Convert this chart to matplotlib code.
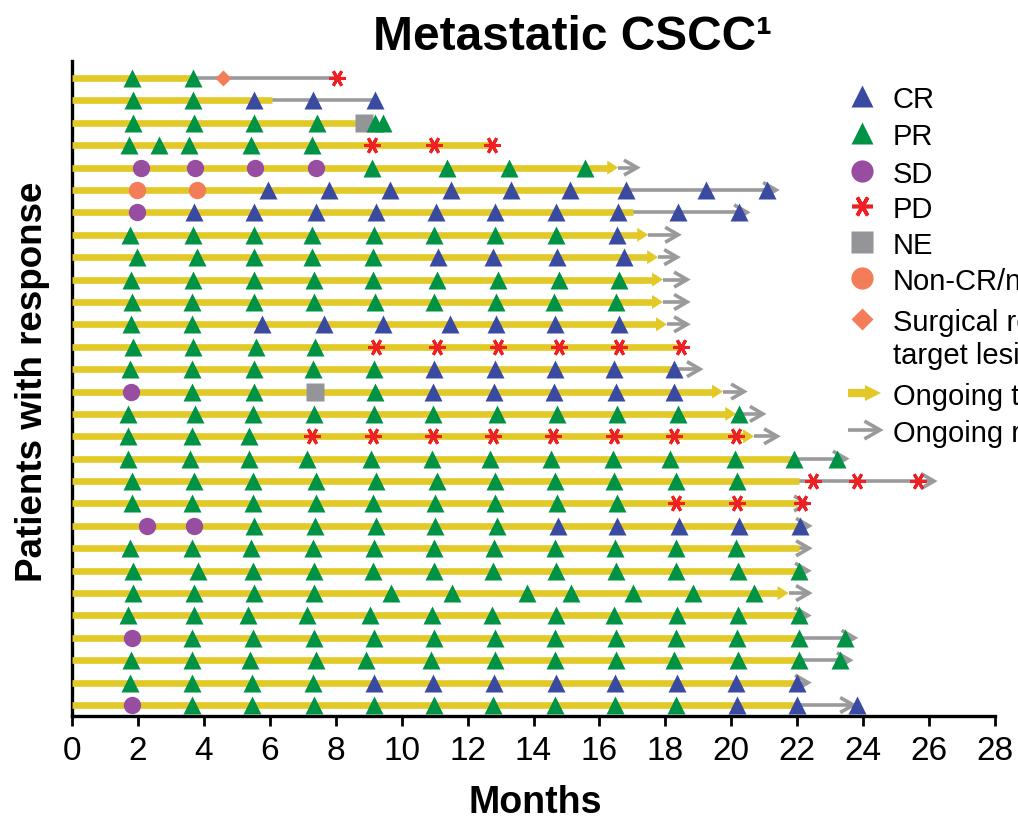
import matplotlib
matplotlib.use("Agg")
import matplotlib.pyplot as plt
from matplotlib.lines import Line2D
from matplotlib.patches import Polygon

plt.rcParams['font.family'] = ['Liberation Sans', 'DejaVu Sans']
NARROW = ['Liberation Sans Narrow', 'Liberation Sans', 'DejaVu Sans']

# ---------------- data (months) ----------------
# treatment bar end (yellow) and whether treatment is ongoing (yellow arrow)
treat_end = [3.70, 6.07, 8.68, 12.74, 16.57, 16.93, 17.02, 17.48, 17.78, 17.93,
             17.93, 18.05, 18.40, 18.20, 19.75, 20.15, 20.69, 22.00, 22.06, 22.00,
             22.03, 22.06, 22.06, 21.74, 22.06, 22.04, 22.04, 22.00, 22.00]
treat_ongoing = [0, 0, 0, 0, 1, 0, 0, 1, 1, 1,
                 1, 1, 0, 0, 1, 1, 1, 0, 0, 0,
                 0, 0, 0, 1, 0, 0, 0, 0, 0]
# response line end (gray); None = no gray line; ongoing response = gray open arrow
resp_end = [8.04, 9.19, None, None, 17.14, 21.36, 20.48, 18.39, 18.36, 18.66,
            18.66, 18.66, None, 19.05, 20.39, 20.96, 21.39, 23.48, 26.15, 22.30,
            22.36, 22.36, 22.33, 22.36, 22.33, 23.74, 23.60, 22.33, 23.70]
resp_ongoing = [0, 0, 0, 0, 1, 1, 1, 1, 1, 1,
                1, 1, 0, 1, 1, 1, 1, 1, 1, 1,
                1, 1, 1, 1, 1, 1, 1, 1, 1]

# tumour assessments per patient (code month)
assessments = [
    "PR 1.82, PR 3.67, SR 4.58, PD 8.04",
    "PR 1.85, PR 3.67, CR 5.52, CR 7.31, CR 9.19",
    "PR 1.85, PR 3.70, PR 5.52, PR 7.43, NE 8.86, PR 9.19, PR 9.44",
    "PR 1.73, PR 2.64, PR 3.55, PR 5.43, PR 7.28, PD 9.10, PD 10.98, PD 12.74",
    "SD 2.09, SD 3.73, SD 5.55, SD 7.40, PR 9.10, PR 11.38, PR 13.26, PR 15.56",
    "NC 1.97, NC 3.79, CR 5.95, CR 7.80, CR 9.65, CR 11.50, CR 13.32, CR 15.11, CR 16.81, CR 19.24, CR 21.09",
    "SD 1.97, CR 3.70, CR 5.52, CR 7.40, CR 9.22, CR 11.04, CR 12.83, CR 14.68, CR 16.57, CR 18.39, CR 20.24",
    "PR 1.76, PR 3.67, PR 5.52, PR 7.28, PR 9.16, PR 10.98, PR 12.83, PR 14.68, CR 16.54",
    "PR 1.97, PR 3.79, PR 5.52, PR 7.28, PR 9.13, CR 11.10, CR 12.77, CR 14.71, CR 16.75",
    "PR 1.79, PR 3.67, PR 5.52, PR 7.34, PR 9.13, PR 11.07, PR 12.92, PR 14.78, PR 16.60",
    "PR 1.82, PR 3.64, PR 5.52, PR 7.34, PR 9.19, PR 10.98, PR 12.86, PR 14.62, PR 16.50",
    "PR 1.79, PR 3.64, CR 5.76, CR 7.65, CR 9.44, CR 11.47, CR 12.86, CR 14.65, CR 16.60",
    "PR 1.85, PR 3.67, PR 5.58, PR 7.37, PD 9.22, PD 11.07, PD 12.92, PD 14.78, PD 16.60, PD 18.48",
    "PR 1.76, PR 3.64, PR 5.52, PR 7.31, PR 9.16, CR 10.98, CR 12.83, CR 14.65, CR 16.44, CR 18.26",
    "SD 1.79, PR 3.64, PR 5.52, NE 7.37, PR 9.19, CR 10.95, CR 12.80, CR 14.62, CR 16.50, CR 18.26",
    "PR 1.70, PR 3.73, PR 5.49, PR 7.34, PR 9.16, PR 10.95, PR 12.89, PR 14.71, PR 16.54, PR 18.39, PR 20.24",
    "PR 1.70, PR 3.64, PR 5.37, PD 7.28, PD 9.13, PD 10.95, PD 12.77, PD 14.59, PD 16.44, PD 18.26, PD 20.15",
    "PR 1.70, PR 3.58, PR 5.37, PR 7.13, PR 9.07, PR 10.92, PR 12.68, PR 14.52, PR 16.41, PR 18.14, PR 20.12, PR 21.91, PR 23.21",
    "PR 1.82, PR 3.70, PR 5.49, PR 7.40, PR 9.22, PR 11.07, PR 12.83, PR 14.65, PR 16.44, PR 18.33, PR 20.18, PD 22.48, PD 23.82, PD 25.67",
    "PR 1.82, PR 3.64, PR 5.49, PR 7.40, PR 9.13, PR 11.01, PR 12.83, PR 14.71, PR 16.54, PD 18.33, PD 20.18, PD 22.15",
    "SD 2.28, SD 3.70, PR 5.52, PR 7.37, PR 9.22, PR 11.01, PR 12.89, CR 14.75, CR 16.54, CR 18.42, CR 20.24, CR 22.09",
    "PR 1.76, PR 3.64, PR 5.43, PR 7.31, PR 9.16, PR 10.98, PR 12.80, PR 14.64, PR 16.47, PR 18.32, PR 20.13",
    "PR 1.85, PR 3.82, PR 5.49, PR 7.34, PR 9.13, PR 10.98, PR 12.77, PR 14.68, PR 16.50, PR 18.33, PR 20.21, PR 22.06",
    "PR 1.85, PR 3.70, PR 5.52, PR 7.34, PR 9.68, PR 11.53, PR 13.79, PR 15.14, PR 17.02, PR 18.84, PR 20.69",
    "PR 1.70, PR 3.70, PR 5.34, PR 7.13, PR 9.04, PR 10.92, PR 12.74, PR 14.68, PR 16.44, PR 18.36, PR 20.21, PR 22.06",
    "SD 1.82, PR 3.64, PR 5.49, PR 7.34, PR 9.16, PR 10.98, PR 12.83, PR 14.65, PR 16.50, PR 18.32, PR 20.18, PR 22.04, PR 23.44",
    "PR 1.79, PR 3.64, PR 5.40, PR 7.40, PR 8.92, PR 10.88, PR 12.83, PR 14.65, PR 16.50, PR 18.26, PR 20.21, PR 22.04, PR 23.30",
    "PR 1.76, PR 3.64, PR 5.46, PR 7.31, CR 9.16, CR 10.95, CR 12.80, CR 14.67, CR 16.47, CR 18.34, CR 20.15, CR 22.00",
    "SD 1.82, PR 3.64, PR 5.46, PR 7.34, PR 9.16, PR 10.98, PR 12.77, PR 14.65, PR 16.47, PR 18.32, CR 20.18, CR 22.00, CR 23.82",
]

x_ticks = list(range(0, 29, 2))
legend_labels = ["CR", "PR", "SD", "PD", "NE", "Non-CR/non-PD",
                 "Surgical removal of\ntarget lesion", "Ongoing treatment", "Ongoing response"]

# ---------------- styles ----------------
YELLOW = "#e3c928"
GRAY = "#9a9a9c"
styles = {
    "CR": dict(marker="^", color="#3a4aa0", ms=12.5),
    "PR": dict(marker="^", color="#009245", ms=12.5),
    "SD": dict(marker="o", color="#984ea0", ms=12.5),
    "PD": dict(marker=(6, 2, 90), color="#ee2024", ms=12, mew=2.2),
    "NE": dict(marker="s", color="#939598", ms=12.5),
    "NC": dict(marker="o", color="#f37c59", ms=12.5),
    "SR": dict(marker="D", color="#f37c59", ms=8),
}

W, H = 1018, 820
fig = plt.figure(figsize=(W / 100, H / 100), dpi=100)
ax_l, ax_r, ax_t, ax_b = 72, 995, 62, 717
ax = fig.add_axes([ax_l / W, (H - ax_b) / H, (ax_r - ax_l) / W, (ax_b - ax_t) / H])
ax.set_xlim(0, 28)
ax.set_ylim(29.49, 0.24)

mpp = 28 / (ax_r - ax_l)               # months per pixel
rpp = (29.49 - 0.24) / (ax_b - ax_t)   # rows per pixel

for i in range(len(treat_end)):
    y = i + 1
    te = treat_end[i]
    re_ = resp_end[i]
    # gray response line
    if re_ is not None:
        ax.plot([te, re_], [y, y], color=GRAY, lw=2.6, solid_capstyle="butt", zorder=2)
        if resp_ongoing[i]:
            L, Hh = 13 * mpp, 7.5 * rpp
            ax.plot([re_ - L, re_, re_ - L], [y - Hh, y, y + Hh], color=GRAY, lw=2.6,
                    solid_joinstyle="miter", solid_capstyle="butt", zorder=2)
    # yellow treatment bar
    if treat_ongoing[i]:
        L, Hh = 11 * mpp, 7 * rpp
        ax.plot([0, te - L * 0.6], [y, y], color=YELLOW, lw=4.8, solid_capstyle="butt", zorder=3)
        ax.add_patch(Polygon([(te, y), (te - L, y - Hh), (te - L, y + Hh)], closed=True,
                             facecolor=YELLOW, edgecolor="none", zorder=3))
    else:
        ax.plot([0, te], [y, y], color=YELLOW, lw=4.8, solid_capstyle="butt", zorder=3)

# assessments
for i, row in enumerate(assessments):
    y = i + 1
    for item in row.split(","):
        code, t = item.split()
        st = styles[code]
        kw = dict(marker=st["marker"], ms=st["ms"], linestyle="none", zorder=5)
        if code == "PD":
            kw.update(color=st["color"], mew=st["mew"])
        else:
            kw.update(markerfacecolor=st["color"], markeredgecolor="none")
        ax.plot([float(t)], [y], **kw)

# axes styling
for s in ["top", "right"]:
    ax.spines[s].set_visible(False)
ax.spines["left"].set_linewidth(2.4)
ax.spines["bottom"].set_linewidth(2.4)
ax.set_yticks([])
ax.set_xticks(x_ticks)
ax.set_xticklabels([str(v) for v in x_ticks], fontsize=24, family=NARROW)
ax.tick_params(axis="x", direction="out", length=7, width=2, pad=7)

fig.text(373 / W, (H - 50) / H, "Metastatic CSCC\u00b9", fontsize=34.5, weight="bold",
         ha="left", va="baseline")
fig.text(535 / W, (H - 813) / H, "Months", fontsize=27, weight="bold",
         ha="center", va="baseline", family=NARROW)
fig.text(33 / W, (H - 382) / H, "Patients with response", fontsize=26.5, weight="bold",
         rotation=90, ha="center", va="center")

# legend (manual)
leg_codes = ["CR", "PR", "SD", "PD", "NE", "NC", "SR"]
leg_y = [97, 134, 172, 207, 243, 279, 320]
leg_ms = {"CR": 16, "PR": 16, "SD": 16, "PD": 15, "NE": 16, "NC": 16, "SR": 11}
mx, tx = 862, 893
for code, yy, lab in zip(leg_codes, leg_y, legend_labels[:7]):
    st = styles[code]
    kw = dict(marker=st["marker"], ms=leg_ms[code], linestyle="none",
              transform=fig.transFigure)
    if code == "PD":
        kw.update(color=st["color"], mew=2.6)
    else:
        kw.update(markerfacecolor=st["color"], markeredgecolor="none")
    fig.add_artist(Line2D([mx / W], [(H - yy) / H], **kw))
    for k, line in enumerate(lab.split("\n")):
        fig.text(tx / W, (H - yy - 33 * k) / H, line, fontsize=21, ha="left",
                 va="center_baseline")
# ongoing treatment arrow
yy = 394
fig.add_artist(Line2D([848 / W, 866 / W], [(H - yy) / H] * 2, color=YELLOW, lw=6,
                      solid_capstyle="butt", transform=fig.transFigure))
fig.add_artist(Polygon([(881 / W, (H - yy) / H), (865 / W, (H - yy - 8) / H),
                        (865 / W, (H - yy + 8) / H)], closed=True, facecolor=YELLOW,
                       edgecolor="none", transform=fig.transFigure))
fig.text(tx / W, (H - yy) / H, legend_labels[7], fontsize=21, ha="left", va="center_baseline")
yy = 431
fig.add_artist(Line2D([848 / W, 880 / W], [(H - yy) / H] * 2, color=GRAY, lw=2.6,
                      solid_capstyle="butt", transform=fig.transFigure))
fig.add_artist(Line2D([866 / W, 880 / W, 866 / W], [(H - yy - 8) / H, (H - yy) / H, (H - yy + 8) / H],
                      color=GRAY, lw=2.6, solid_joinstyle="miter", transform=fig.transFigure))
fig.text(tx / W, (H - yy) / H, legend_labels[8], fontsize=21, ha="left", va="center_baseline")

fig.savefig("out.png", dpi=100)
